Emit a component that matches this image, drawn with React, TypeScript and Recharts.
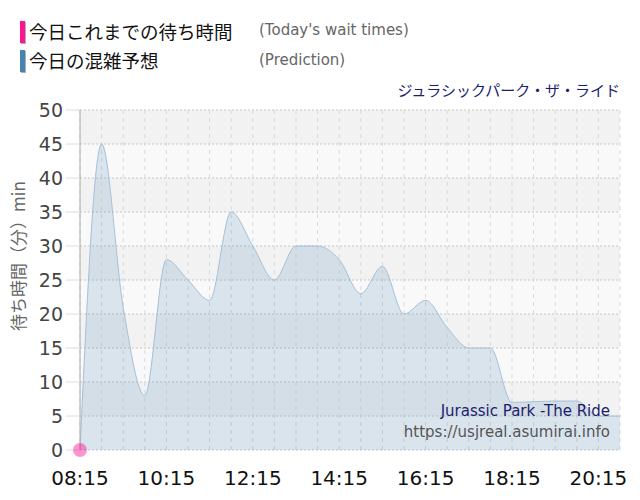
import React from 'react'
import { ComposedChart, Area, Line, XAxis, YAxis, CartesianGrid } from 'recharts'

// predicted wait times, every 30 minutes
const times = [
  '08:15', '08:45', '09:15', '09:45', '10:15', '10:45', '11:15', '11:45', '12:15',
  '12:45', '13:15', '13:45', '14:15', '14:45', '15:15', '15:45', '16:15', '16:45',
  '17:15', '17:45', '18:15', '18:45', '19:15', '19:45', '20:15', '20:45',
]
const predicted = [
  0, 45, 21, 8, 28, 25, 22, 35, 30,
  25, 30, 30, 28, 23, 27, 20, 22, 18,
  15, 15, 7, 7.1, 7.2, 7.2, 5, 5,
]

// today's actual wait times so far
const todayTimes = ['08:15']
const todayWait = [0]

const xLabels = ['08:15', '10:15', '12:15', '14:15', '16:15', '18:15', '20:15']
const yTicks = [0, 5, 10, 15, 20, 25, 30, 35, 40, 45, 50]

function toMin(s: string) {
  const [h, m] = s.split(':').map(Number)
  return h * 60 + m
}

function fmtMin(v: number) {
  const h = Math.floor(v / 60)
  const m = v % 60
  return `${String(h).padStart(2, '0')}:${String(m).padStart(2, '0')}`
}

const data = times.map((t, i) => {
  const k = todayTimes.indexOf(t)
  return { t: toMin(t), predicted: predicted[i], today: k >= 0 ? todayWait[k] : null }
})

const xTicks = data.map(d => d.t)
const labelSet = new Set(xLabels.map(toMin))

const latin = '"DejaVu Sans", Verdana, sans-serif'
const jp = '"Noto Sans CJK JP", "DejaVu Sans", sans-serif'

function abs(extra: React.CSSProperties): React.CSSProperties {
  return { position: 'absolute', whiteSpace: 'nowrap', ...extra }
}

export default function App() {
  return (
    <div style={{ position: 'absolute', left: 0, top: 0, width: 640, height: 500, background: '#fff', overflow: 'hidden' }}>
      <ComposedChart
        width={640}
        height={500}
        data={data}
        margin={{ top: 110, right: 20, bottom: 20, left: 0 }}
      >
        <CartesianGrid
          vertical={false}
          stroke="#c6c6c6"
          strokeDasharray="2 2"
          horizontalFill={['#f2f2f2', '#f9f9f9']}
          fillOpacity={1}
        />
        <CartesianGrid horizontal={false} stroke="#dadada" strokeDasharray="4 4" />
        <XAxis
          dataKey="t"
          type="number"
          domain={[toMin(times[0]), toMin(times[times.length - 1])]}
          ticks={xTicks}
          interval={0}
          tickFormatter={v => (labelSet.has(v) ? fmtMin(v) : '')}
          axisLine={false}
          tickLine={false}
          tickMargin={15}
          height={30}
          tick={{ fontSize: 20, fill: '#111', fontFamily: latin }}
        />
        <YAxis
          domain={[0, 50]}
          ticks={yTicks}
          interval={0}
          width={80}
          tickSize={14}
          tickMargin={3}
          axisLine={{ stroke: '#aaa' }}
          tickLine={{ stroke: '#dcdcdc' }}
          tick={{ fontSize: 19, fill: '#444', fontFamily: latin }}
        />
        <Area
          type="monotone"
          dataKey="predicted"
          stroke="#a6c0d8"
          strokeWidth={1}
          fill="#5a8fc0"
          fillOpacity={0.2}
          dot={false}
          activeDot={false}
          isAnimationActive={false}
        />
        <Line
          type="linear"
          dataKey="today"
          stroke="none"
          dot={{ r: 7, fill: '#ff1493', fillOpacity: 0.45, stroke: 'none', strokeWidth: 0 }}
          activeDot={false}
          isAnimationActive={false}
        />
      </ComposedChart>

      {/* legend */}
      <div style={abs({ left: 20, top: 21, width: 5, height: 22, background: '#ff1493', boxShadow: '1px 1px 0 #b0b0b0' })} />
      <div style={abs({ left: 20, top: 50, width: 5, height: 22, background: '#4682b4', boxShadow: '1px 1px 0 #b0b0b0' })} />
      <div style={abs({ left: 29, top: 19, fontSize: 18.5, lineHeight: '24px', color: '#111', fontFamily: jp })}>
        今日これまでの待ち時間
      </div>
      <div style={abs({ left: 29, top: 48, fontSize: 18.5, lineHeight: '24px', color: '#111', fontFamily: jp })}>
        今日の混雑予想
      </div>
      <div style={abs({ left: 259, top: 20, fontSize: 15, lineHeight: '20px', color: '#666', fontFamily: latin })}>
        (Today's wait times)
      </div>
      <div style={abs({ left: 259, top: 50, fontSize: 15, lineHeight: '20px', color: '#666', fontFamily: latin })}>
        (Prediction)
      </div>

      {/* titles */}
      <div style={abs({ right: 20, top: 80, fontSize: 15, lineHeight: '20px', color: '#1c1c6e', fontFamily: jp, textAlign: 'right' })}>
        ジュラシックパーク・ザ・ライド
      </div>
      <div style={abs({ right: 30, top: 401, fontSize: 15, lineHeight: '20px', color: '#1d1d6b', fontFamily: latin, textAlign: 'right' })}>
        Jurassic Park -The Ride
      </div>
      <div style={abs({ right: 30, top: 422, fontSize: 15, lineHeight: '20px', color: '#555', fontFamily: latin, textAlign: 'right' })}>
        https://usjreal.asumirai.info
      </div>

      {/* y axis title */}
      <div
        style={abs({
          left: 18,
          top: 256,
          fontSize: 17,
          lineHeight: '20px',
          color: '#666',
          fontFamily: jp,
          transform: 'translate(-50%, -50%) rotate(-90deg)',
        })}
      >
        待ち時間（分）min
      </div>
    </div>
  )
}
